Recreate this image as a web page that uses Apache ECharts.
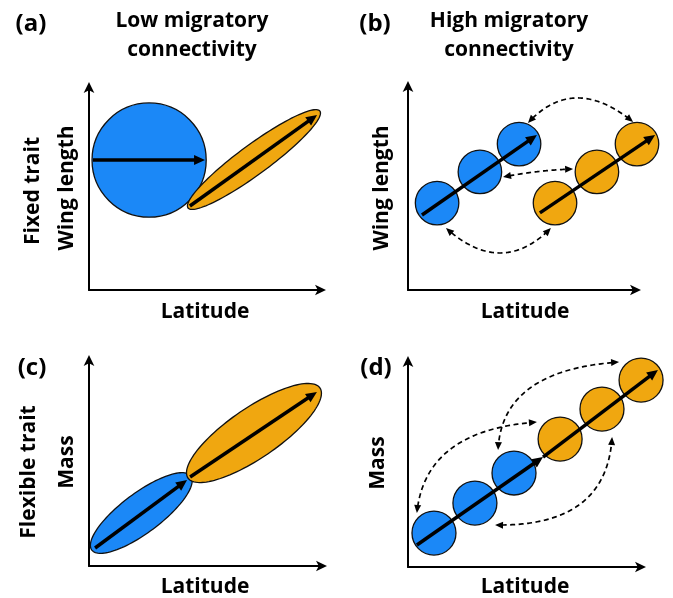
<!DOCTYPE html>
<html>
<head>
<meta charset="utf-8">
<script src="https://cdn.jsdelivr.net/npm/echarts@6/dist/echarts.min.js"></script>
<style>html,body{margin:0;padding:0;background:#fff}#chart{width:673px;height:598px}</style>
</head>
<body>
<div id="chart"></div>
<script>
// ---------- data (conceptual units: each panel's axes run 0..10) ----------
// circles: [x, y, radius(x-units)]
const aBlueCircle = [[2.58, 6.37, 2.45]];
// ellipses: [x1, y1, x2, y2, half-width(x-units)]  (major-axis end points)
const aOrangeEllipse = [[4.25, 4.02, 9.91, 8.77, 0.64]];
// arrows: [x1, y1, x2, y2]
const aArrows = [[0.17, 6.37, 4.98, 6.37], [4.33, 4.12, 9.79, 8.58]];

const bBlueCircles = [[1.27, 4.24, 0.95], [3.14, 5.76, 0.95], [4.85, 7.12, 0.95]];
const bOrangeCircles = [[6.42, 4.24, 0.95], [8.25, 5.76, 0.95], [10.0, 7.12, 0.95]];
const bArrows = [[0.61, 3.66, 5.63, 7.56], [5.76, 3.76, 10.79, 7.56]];
// dashed two-headed curves: [x0, y0, ctrlX, ctrlY, x2, y2]
const bDashed = [[5.24, 8.15, 7.23, 10.56, 9.83, 8.20],
                 [4.15, 5.51, 5.68, 5.85, 7.21, 5.90],
                 [1.66, 3.02, 4.08, 0.59, 6.24, 3.02]];

const cBlueEllipse = [[0.12, 0.77, 4.35, 4.35, 0.85]];
const cOrangeEllipse = [[4.23, 4.25, 9.87, 8.60, 1.07]];
const cArrows = [[0.26, 0.87, 4.19, 4.15], [4.32, 4.30, 9.74, 8.41]];

const dBlueCircles = [[1.11, 1.64, 0.94], [2.86, 3.09, 0.94], [4.53, 4.54, 0.94]];
const dOrangeCircles = [[6.50, 6.18, 0.94], [8.29, 7.63, 0.94], [9.96, 9.03, 0.94]];
const dArrows = [[0.38, 1.06, 5.77, 5.31], [5.77, 5.31, 10.68, 9.52]];
const dDashed = [[9.02, 9.90, 4.00, 9.52, 3.85, 5.65],
                 [0.38, 2.61, 0.73, 6.62, 5.51, 7.00],
                 [3.72, 2.03, 8.50, 1.93, 8.72, 6.28]];

const panelLetters = ['(a)', '(b)', '(c)', '(d)'];
const panelTitles = [['Low migratory', 'connectivity'], ['High migratory', 'connectivity']];
const xAxisLabel = 'Latitude';
const yAxisLabels = [['Fixed trait', 'Wing length'], ['Wing length'], ['Flexible trait', 'Mass'], ['Mass']];

// ---------- styling ----------
const BLUE = '#1b88f7', ORANGE = '#f0a710';
const FONT = 'bold 21px "Open Sans", "Noto Sans", sans-serif';
const LETTER_FONT = 'bold 24px "Open Sans", "Noto Sans", sans-serif';

function head(tip, ux, uy, L, W) {
  const nx = -uy, ny = ux;
  const bx = tip[0] - ux * L, by = tip[1] - uy * L;
  return {type: 'polygon', shape: {points: [tip, [bx + nx * W / 2, by + ny * W / 2], [bx - nx * W / 2, by - ny * W / 2]]},
          style: {fill: '#000'}};
}

function circleSeries(gi, data, color) {
  return {type: 'custom', xAxisIndex: gi, yAxisIndex: gi, data: data, clip: false, silent: true,
    renderItem: function (p, api) {
      const c = api.coord([api.value(0), api.value(1)]);
      const r = api.size([api.value(2), 0])[0];
      return {type: 'circle', shape: {cx: c[0], cy: c[1], r: r}, style: {fill: color, stroke: '#111', lineWidth: 1.3}};
    }};
}

function ellipseSeries(gi, data, color) {
  return {type: 'custom', xAxisIndex: gi, yAxisIndex: gi, data: data, clip: false, silent: true,
    renderItem: function (p, api) {
      const p1 = api.coord([api.value(0), api.value(1)]);
      const p2 = api.coord([api.value(2), api.value(3)]);
      const hw = api.size([api.value(4), 0])[0];
      const cx = (p1[0] + p2[0]) / 2, cy = (p1[1] + p2[1]) / 2;
      const dx = p2[0] - p1[0], dy = p2[1] - p1[1];
      const a = Math.hypot(dx, dy) / 2, ca = dx / (2 * a), sa = dy / (2 * a);
      const pts = [];
      for (let i = 0; i < 120; i++) {
        const t = 2 * Math.PI * i / 120;
        const x = a * Math.cos(t), y = hw * Math.sin(t);
        pts.push([cx + x * ca - y * sa, cy + x * sa + y * ca]);
      }
      return {type: 'polygon', shape: {points: pts}, style: {fill: color, stroke: '#111', lineWidth: 1.3}};
    }};
}

function arrowSeries(gi, data) {
  return {type: 'custom', xAxisIndex: gi, yAxisIndex: gi, data: data, clip: false, silent: true,
    renderItem: function (p, api) {
      const p1 = api.coord([api.value(0), api.value(1)]);
      const p2 = api.coord([api.value(2), api.value(3)]);
      const dx = p2[0] - p1[0], dy = p2[1] - p1[1], len = Math.hypot(dx, dy);
      const ux = dx / len, uy = dy / len, L = 11, W = 10;
      return {type: 'group', children: [
        {type: 'line', shape: {x1: p1[0], y1: p1[1], x2: p2[0] - ux * L * 0.7, y2: p2[1] - uy * L * 0.7},
         style: {stroke: '#000', lineWidth: 3.5}},
        head(p2, ux, uy, L, W)
      ]};
    }};
}

function dashedSeries(gi, data) {
  return {type: 'custom', xAxisIndex: gi, yAxisIndex: gi, data: data, clip: false, silent: true,
    renderItem: function (p, api) {
      const P0 = api.coord([api.value(0), api.value(1)]);
      const C = api.coord([api.value(2), api.value(3)]);
      const P2 = api.coord([api.value(4), api.value(5)]);
      const N = 100, pts = [], s = [0];
      for (let i = 0; i <= N; i++) {
        const t = i / N, m = 1 - t;
        pts.push([m * m * P0[0] + 2 * m * t * C[0] + t * t * P2[0], m * m * P0[1] + 2 * m * t * C[1] + t * t * P2[1]]);
        if (i > 0) s.push(s[i - 1] + Math.hypot(pts[i][0] - pts[i - 1][0], pts[i][1] - pts[i - 1][1]));
      }
      const L = 8, W = 7, total = s[N];
      const kept = pts.filter((q, i) => s[i] >= L * 0.8 && s[i] <= total - L * 0.8);
      let ux = P0[0] - C[0], uy = P0[1] - C[1], l = Math.hypot(ux, uy);
      const h0 = head(P0, ux / l, uy / l, L, W);
      ux = P2[0] - C[0]; uy = P2[1] - C[1]; l = Math.hypot(ux, uy);
      const h2 = head(P2, ux / l, uy / l, L, W);
      return {type: 'group', children: [
        {type: 'polyline', shape: {points: kept}, style: {stroke: '#000', lineWidth: 1.7, lineDash: [5, 3.5], fill: null}},
        h0, h2
      ]};
    }};
}

const grids = [
  {left: 89, top: 86, width: 233, height: 204},
  {left: 408, top: 85, width: 229, height: 205},
  {left: 89, top: 359, width: 234, height: 207},
  {left: 408, top: 360, width: 234, height: 207}
];

function axis(gi) {
  return {gridIndex: gi, type: 'value', min: 0, max: 10,
    axisLine: {show: true, onZero: false, symbol: ['none', 'arrow'], symbolSize: [8, 11], symbolOffset: [0, 4],
               lineStyle: {color: '#000', width: 2}},
    axisTick: {show: false}, axisLabel: {show: false}, splitLine: {show: false}};
}

function txt(x, y, text, rot, font) {
  return {type: 'text', x: x, y: y, rotation: rot || 0, silent: true,
    style: {text: text, align: 'center', verticalAlign: 'middle', font: font || FONT, fill: '#000'}};
}

const letterPos = [[31, 24], [375, 24], [32, 368], [376, 368]];
const titlePos = [[192, 21, 50], [509, 21, 50]];
const latPos = [[205, 312], [525, 312], [205, 587], [525, 587]];
const yLabPos = [[[33, 191], [67, 188]], [[382, 188]], [[29, 472], [67, 462]], [[378, 463]]];

const graphics = [];
panelLetters.forEach((t, i) => graphics.push(txt(letterPos[i][0], letterPos[i][1], t, 0, LETTER_FONT)));
panelTitles.forEach((lines, i) => {
  graphics.push(txt(titlePos[i][0], titlePos[i][1], lines[0]));
  graphics.push(txt(titlePos[i][0], titlePos[i][2], lines[1]));
});
latPos.forEach(p => graphics.push(txt(p[0], p[1], xAxisLabel)));
yAxisLabels.forEach((labs, i) => labs.forEach((t, j) => graphics.push(txt(yLabPos[i][j][0], yLabPos[i][j][1], t, Math.PI / 2))));

const chart = echarts.init(document.getElementById('chart'), null, {renderer: 'canvas'});
chart.setOption({
  animation: false,
  backgroundColor: '#fff',
  grid: grids,
  xAxis: [0, 1, 2, 3].map(axis),
  yAxis: [0, 1, 2, 3].map(axis),
  graphic: graphics,
  series: [
    circleSeries(0, aBlueCircle, BLUE),
    ellipseSeries(0, aOrangeEllipse, ORANGE),
    arrowSeries(0, aArrows),
    circleSeries(1, bBlueCircles, BLUE),
    circleSeries(1, bOrangeCircles, ORANGE),
    arrowSeries(1, bArrows),
    dashedSeries(1, bDashed),
    ellipseSeries(2, cBlueEllipse, BLUE),
    ellipseSeries(2, cOrangeEllipse, ORANGE),
    arrowSeries(2, cArrows),
    circleSeries(3, dBlueCircles, BLUE),
    circleSeries(3, dOrangeCircles, ORANGE),
    arrowSeries(3, dArrows),
    dashedSeries(3, dDashed)
  ]
});
</script>
</body>
</html>
